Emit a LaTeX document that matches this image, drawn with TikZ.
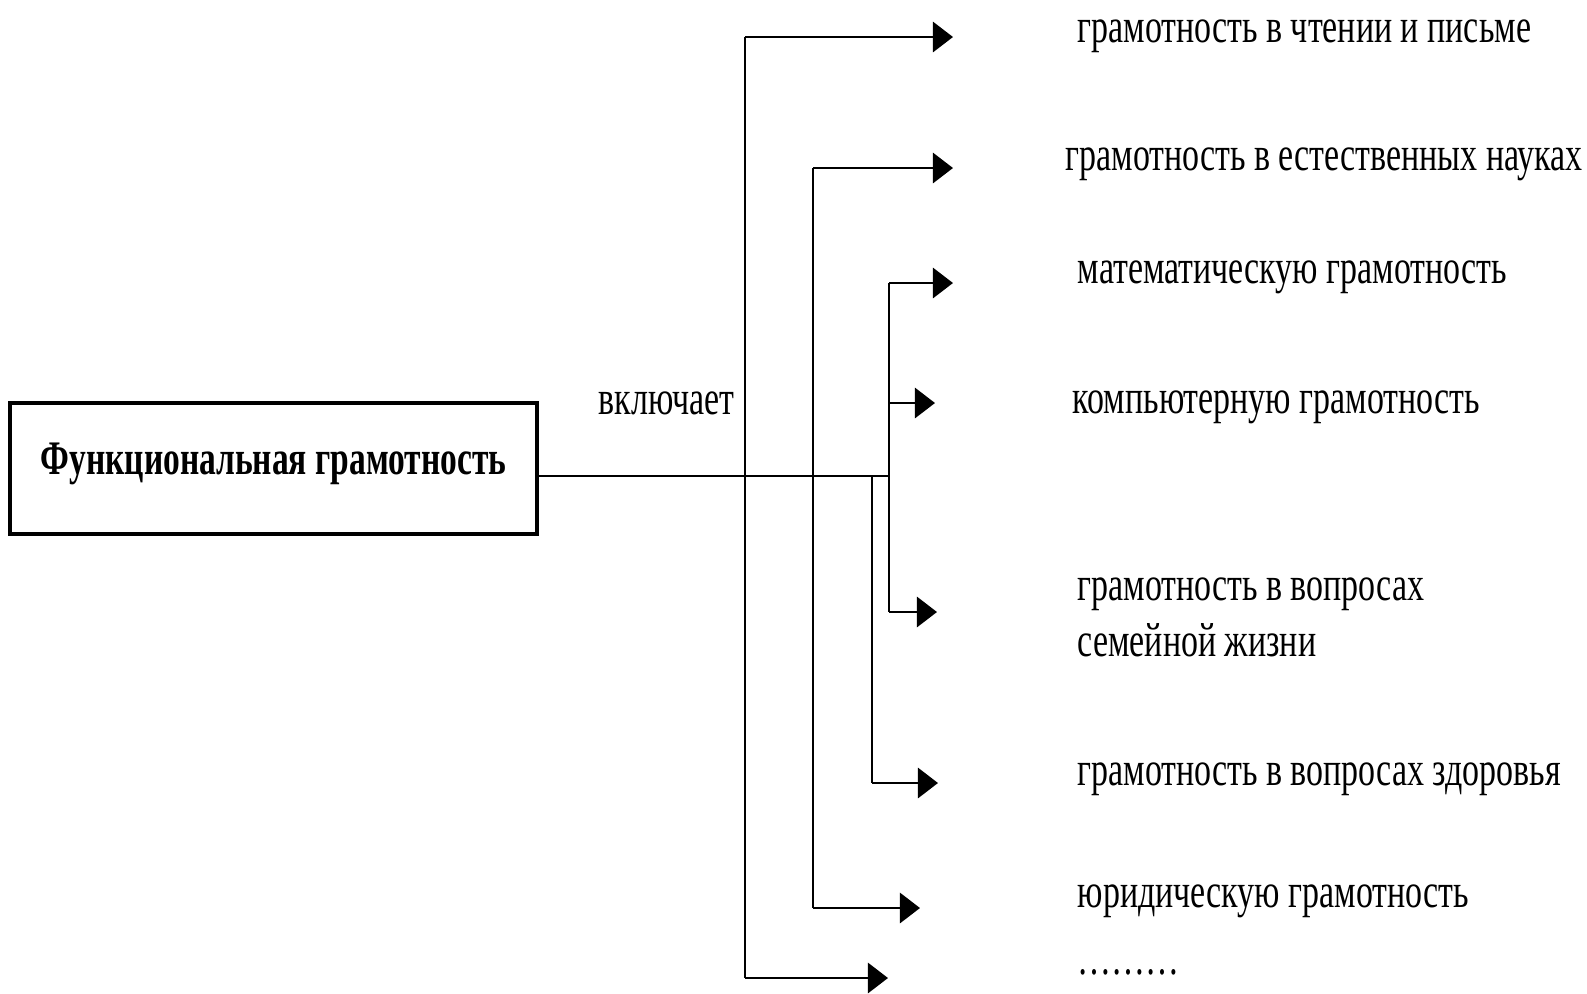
\documentclass[tikz,border=0pt]{standalone}
\usepackage{fontspec}
\setmainfont{Liberation Serif}
\usepackage{graphicx}
\usetikzlibrary{arrows.meta}
\newcommand\squeeze[1]{\scalebox{0.705}[1]{#1}}
\tikzset{
  wire/.style={line width=0.8pt, black},
  arr/.style={wire, -{Triangle[length=0.20cm,width=0.30cm]}},
  lbl/.style={anchor=base west, inner sep=0pt, font=\fontsize{13.7}{16.2}\selectfont},
  mainbox/.style={draw, line width=0.95pt, minimum width=5.27cm, minimum height=1.31cm,
    inner sep=0pt, text height=0.30cm, text depth=0.19cm,
    font=\fontsize{13.7}{16.2}\selectfont\bfseries},
}
\begin{document}
\begin{tikzpicture}[x=0.01cm, y=-0.01cm]
\useasboundingbox (0,0) rectangle (1587,993);
\fill[white] (0,0) rectangle (1587,993);

% main box
\node[mainbox] (box) at (273.5,468.5) {\scalebox{0.695}[1]{Функциональная грамотность}};
\node[lbl] (incl) at (598,414) {\squeeze{включает}};

% branch coordinates
\coordinate (hub) at (889,476);
\coordinate (a1) at (745,37);   \coordinate (a2) at (745,978);
\coordinate (b1) at (813,168);  \coordinate (b2) at (813,908);
\coordinate (c1) at (889,283);  \coordinate (c2) at (889,403); \coordinate (c3) at (889,612);
\coordinate (d0) at (872,476);  \coordinate (d1) at (872,783);

% tips
\coordinate (t1) at (953,37);
\coordinate (t2) at (953,168);
\coordinate (t3) at (953,283);
\coordinate (t4) at (935,403);
\coordinate (t5) at (937,612);
\coordinate (t6) at (938,783);
\coordinate (t7) at (920,908);
\coordinate (t8) at (888,978);

% trunk
\draw[wire] (box.east |- hub) -- (hub);
\draw[wire] (a1) -- (a2);
\draw[wire] (b1) -- (b2);
\draw[wire] (c1) -- (c3);
\draw[wire] (d0) -- (d1);

% arrows
\draw[arr] (a1) -- (t1);
\draw[arr] (b1) -- (t2);
\draw[arr] (c1) -- (t3);
\draw[arr] (c2) -- (t4);
\draw[arr] (c3) -- (t5);
\draw[arr] (d1) -- (t6);
\draw[arr] (b2) -- (t7);
\draw[arr] (a2) -- (t8);

% labels
\node[lbl] (l1) at (1077,42)  {\squeeze{грамотность в чтении и письме}};
\node[lbl] (l2) at (1065,170) {\squeeze{грамотность в естественных науках}};
\node[lbl] (l3) at (1077,283) {\squeeze{математическую грамотность}};
\node[lbl] (l4) at (1072,413) {\squeeze{компьютерную грамотность}};
\node[lbl] (l5) at (1077,600) {\squeeze{\begin{tabular}[t]{@{}l@{}}грамотность в вопросах\\семейной жизни\end{tabular}}};
\node[lbl] (l6) at (1077,785) {\squeeze{грамотность в вопросах здоровья}};
\node[lbl] (l7) at (1077,907) {\squeeze{юридическую грамотность}};
\node[lbl] (l8) at (1077,974) {\squeeze{………}};
\end{tikzpicture}
\end{document}
